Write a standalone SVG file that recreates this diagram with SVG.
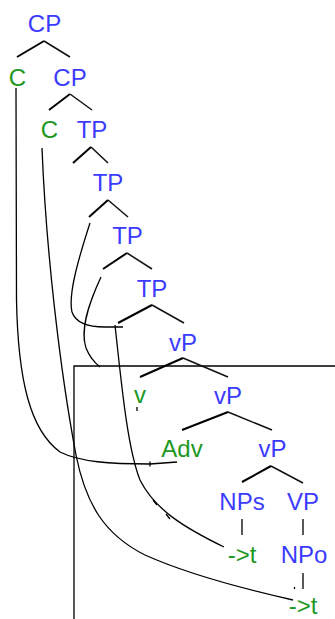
<svg xmlns="http://www.w3.org/2000/svg" width="335" height="619" viewBox="0 0 335 619">
<style>
text{font-family:"Liberation Sans",Arial,sans-serif;font-size:24px;text-anchor:middle}
.b{fill:#3b3bff}
.g{fill:#20981f}
.br{fill:none;stroke:#000;stroke-width:2}
.br2{fill:none;stroke:#111;stroke-width:1.5}
.ln{fill:none;stroke:#000;stroke-width:1.3}
</style>
<rect width="335" height="619" fill="#fff"/>
<g id="box"><polyline class="ln" points="74,619 74,366 335,366"/></g>
<g id="connectors">
<path class="br" d="M17,57 L44,41"/><path class="br2" d="M44,41 L70,57"/>
<path class="br" d="M49,110 L70,94"/><path class="br2" d="M70,94 L92,110"/>
<path class="br" d="M73,163 L91,147"/><path class="br2" d="M91,147 L108,163"/>
<path class="br" d="M89,217 L108,200"/><path class="br2" d="M108,200 L128,217"/>
<path class="br" d="M103,269 L127,253"/><path class="br2" d="M127,253 L152,269"/>
<path class="br" d="M118,323 L152,305"/><path class="br2" d="M152,305 L184,323"/>
<path class="br" d="M140,377 L183,358"/><path class="br2" d="M183,358 L228,377"/>
<path class="br" d="M182,430 L228,412"/><path class="br2" d="M228,412 L272,430"/>
<path class="br" d="M242,482 L271,466"/><path class="br2" d="M271,466 L303,483"/>
<path class="ln" d="M242,519 V535 M303,519 V535 M303,573 V589"/>
<path class="ln" d="M294.5,587 V589 M137,407 V411"/>
<path class="ln" d="M16,88 L16.5,300 C18,380 30,430 60,452 C80,462 110,464 150,464 L177,462 M150,461.5 V466.5"/>
<path class="ln" d="M42,148 C46,250 60,370 76,455 C86,505 105,535 145,555 C185,573 240,588 293,600"/>
<path class="ln" d="M90,223 C78,260 68,295 72,312 C76,324 90,327 105,327 L123,327"/>
<path class="ln" d="M115,325 C122,390 128,450 140,480 C155,510 185,528 224,547 M153,500 L157,505 M166,514 L170,519"/>
<path class="ln" d="M101,277 C88,305 80,330 86,348 C90,358 95,363 100,367"/>
</g>
<g id="CP1"><text class="b" x="44.5" y="32">CP</text></g>
<g id="C1"><text class="g" x="17.5" y="85.5">C</text></g>
<g id="CP2"><text class="b" x="70" y="85.5">CP</text></g>
<g id="C2"><text class="g" x="49.5" y="138">C</text></g>
<g id="TP1"><text class="b" x="92" y="138">TP</text></g>
<g id="TP2"><text class="b" x="108" y="191">TP</text></g>
<g id="TP3"><text class="b" x="127.5" y="244">TP</text></g>
<g id="TP4"><text class="b" x="152" y="297">TP</text></g>
<g id="vP1"><text class="b" x="183" y="351">vP</text></g>
<g id="v"><text class="g" x="140" y="403">v</text></g>
<g id="vP2"><text class="b" x="228" y="404">vP</text></g>
<g id="Adv"><text class="g" x="182" y="457">Adv</text></g>
<g id="vP3"><text class="b" x="272.5" y="457">vP</text></g>
<g id="NPs"><text class="b" x="242" y="510">NPs</text></g>
<g id="VP"><text class="b" x="303" y="510">VP</text></g>
<g id="t1"><text class="g" x="242" y="563">-&gt;t</text></g>
<g id="NPo"><text class="b" x="304" y="563">NPo</text></g>
<g id="t2"><text class="g" x="303" y="614">-&gt;t</text></g>
</svg>
